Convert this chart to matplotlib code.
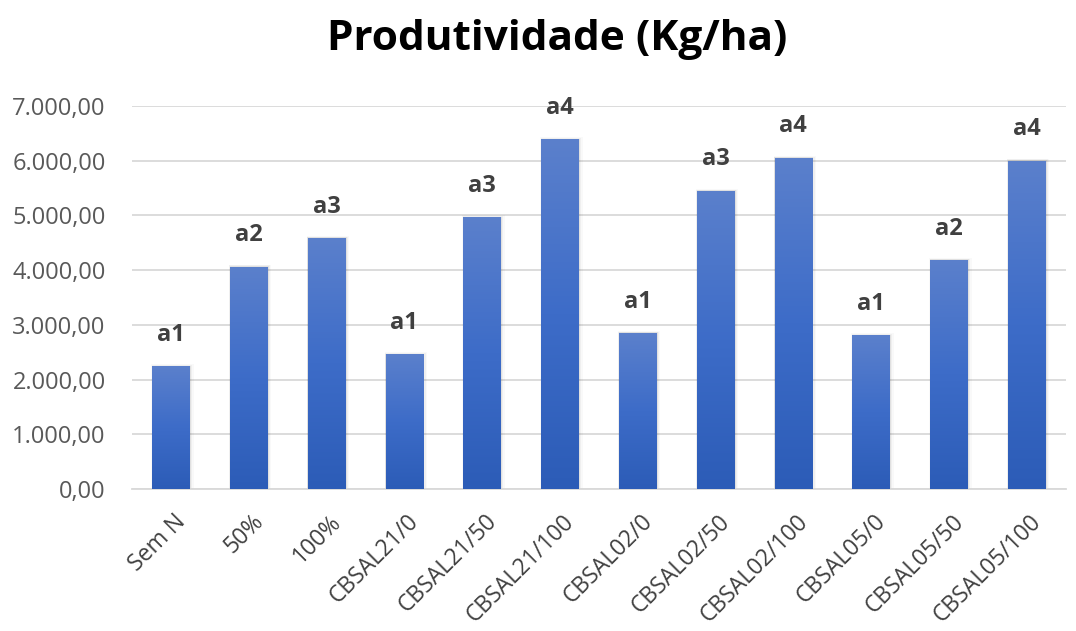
import numpy as np
import matplotlib
matplotlib.use('Agg')
import matplotlib.pyplot as plt
from matplotlib.colors import LinearSegmentedColormap
from matplotlib.ticker import FuncFormatter

# Produtividade por tratamento (Kg/ha) e letras do teste de médias
tratamentos = ['Sem N', '50%', '100%', 'CBSAL21/0', 'CBSAL21/50', 'CBSAL21/100',
               'CBSAL02/0', 'CBSAL02/50', 'CBSAL02/100', 'CBSAL05/0', 'CBSAL05/50',
               'CBSAL05/100']
produtividade = [2245, 4065, 4588, 2460, 4966, 6394,
                 2849, 5448, 6052, 2807, 4186, 6004]
letras = ['a1', 'a2', 'a3', 'a1', 'a3', 'a4', 'a1', 'a3', 'a4', 'a1', 'a2', 'a4']
y_ticks = [0, 1000, 2000, 3000, 4000, 5000, 6000, 7000]

FONT = 'Open Sans'
TICK_GREY = '#595959'
LABEL_GREY = '#404040'
GRID = '#D9D9D9'
grad = LinearSegmentedColormap.from_list('barra', ['#2C5CB7', '#3D6CC8', '#5B80CC'])

fig = plt.figure(figsize=(10.76, 6.31), dpi=100)
ax = fig.add_axes([0.1227, 0.225, 0.8677, 0.607])

x = np.arange(len(tratamentos))
width = 0.48
bars = ax.bar(x, produtividade, width=width, color='none', edgecolor='none', zorder=3)

# soft shadow + vertical gradient clipped to each bar
gradient = np.linspace(0, 1, 256).reshape(-1, 1)
for rect in bars:
    x0, w, h = rect.get_x(), rect.get_width(), rect.get_height()
    for k, a in enumerate([0.06, 0.04, 0.025]):
        d = 0.012 * (k + 1)
        ax.add_patch(plt.Rectangle((x0 - d * 0.4, 0), w + d * 1.8, h + 12 * (k + 1),
                                   facecolor='black', alpha=a, edgecolor='none',
                                   zorder=2))
    im = ax.imshow(gradient, cmap=grad, aspect='auto', origin='lower',
                   extent=(x0, x0 + w, 0, h), zorder=3)
    im.set_clip_path(rect)

for xi, v, lab in zip(x, produtividade, letras):
    ax.annotate(lab, (xi, v), xytext=(0, 14), textcoords='offset points',
                ha='center', va='bottom', fontsize=17, fontweight='bold',
                color=LABEL_GREY, family=FONT)

ax.set_xlim(-0.5, len(tratamentos) - 0.5)
ax.set_ylim(0, 7000)
ax.set_yticks(y_ticks)
ax.yaxis.set_major_formatter(FuncFormatter(
    lambda v, _: f'{v:,.2f}'.replace(',', 'X').replace('.', ',').replace('X', '.')))
ax.set_xticks(x)
ax.set_xticklabels([])
# category names, rotated 45° and hung just right of each bar centre
for xi, nome in zip(x, tratamentos):
    ax.annotate(nome, (xi, 0), xycoords=('data', 'axes fraction'),
                xytext=(8, -21), textcoords='offset points',
                rotation=45, ha='right', va='center', rotation_mode='anchor',
                fontsize=16.5, color=LABEL_GREY, family=FONT, annotation_clip=False)
for t in ax.get_yticklabels():
    t.set_fontsize(17)
    t.set_color(TICK_GREY)
    t.set_family(FONT)
ax.tick_params(axis='both', length=0)
ax.tick_params(axis='y', pad=19)

ax.grid(axis='y', color=GRID, linewidth=1.3, zorder=0)
ax.set_axisbelow(True)
for sp in ('top', 'right', 'left'):
    ax.spines[sp].set_visible(False)
ax.spines['bottom'].set_color(GRID)
ax.spines['bottom'].set_linewidth(1.3)

fig.suptitle('Produtividade (Kg/ha)', x=0.5177, y=0.97, fontsize=30.5,
             fontweight='bold', color='black', family=FONT)

fig.savefig('out.png', dpi=100, facecolor='white')
